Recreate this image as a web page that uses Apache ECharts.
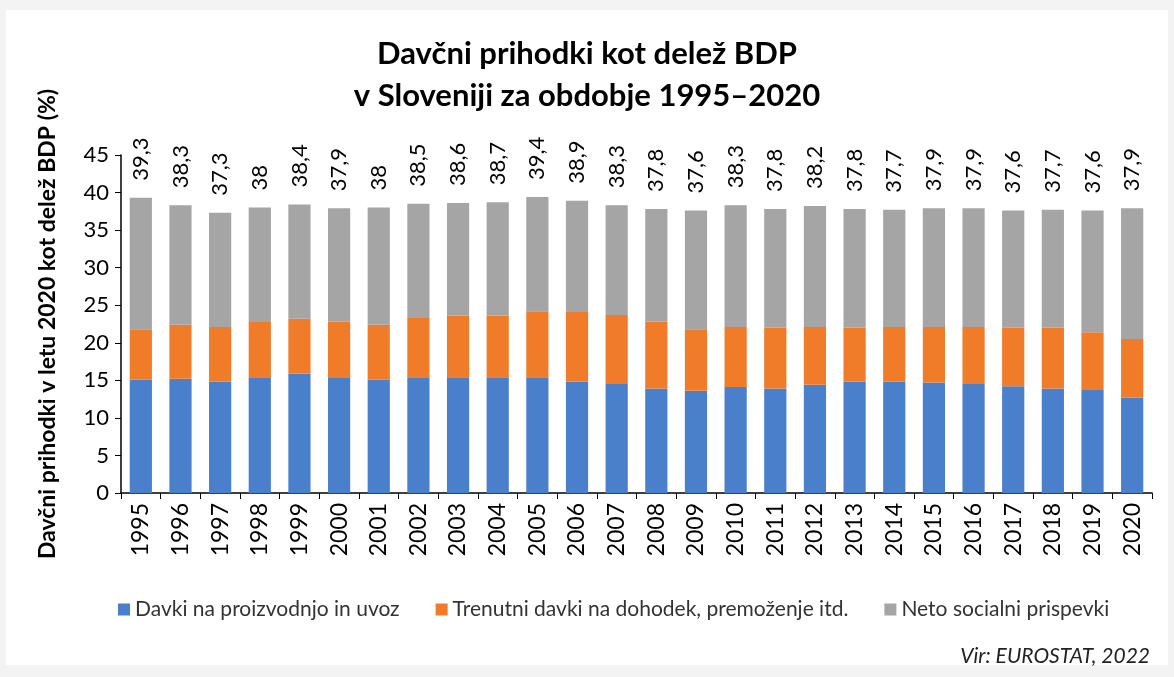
<!DOCTYPE html>
<html><head><meta charset="utf-8">
<script src="https://cdn.jsdelivr.net/npm/echarts@6/dist/echarts.min.js"></script>
<style>html,body{margin:0;padding:0;background:#f3f3f3;}#c{width:1174px;height:677px;}</style>
</head><body><div id="c"></div>
<script>
const years = ['1995','1996','1997','1998','1999','2000','2001','2002','2003','2004','2005','2006','2007','2008','2009','2010','2011','2012','2013','2014','2015','2016','2017','2018','2019','2020'];
const totals = [39.3,38.3,37.3,38,38.4,37.9,38,38.5,38.6,38.7,39.4,38.9,38.3,37.8,37.6,38.3,37.8,38.2,37.8,37.7,37.9,37.9,37.6,37.7,37.6,37.9];
const production = [15.1,15.2,14.8,15.4,15.9,15.3,15.1,15.4,15.4,15.4,15.4,14.8,14.5,13.9,13.6,14.1,13.9,14.4,14.8,14.8,14.7,14.5,14.2,13.9,13.7,12.7];
const income = [6.7,7.2,7.3,7.35,7.3,7.5,7.3,7.9,8.2,8.2,8.8,9.3,9.2,8.9,8.2,8.0,8.1,7.7,7.2,7.3,7.4,7.6,7.8,8.1,7.7,7.8];
const social = [17.5,15.9,15.2,15.25,15.2,15.1,15.6,15.2,15.0,15.1,15.2,14.8,14.6,15.0,15.8,16.2,15.8,16.1,15.8,15.6,15.8,15.8,15.6,15.7,16.2,17.4];
const yTicks = [0,5,10,15,20,25,30,35,40,45];

const FONT = 'Lato, "Open Sans", sans-serif';
const chart = echarts.init(document.getElementById('c'));
chart.setOption({
  backgroundColor: '#f3f3f3',
  graphic: [
    {type:'rect', shape:{x:6,y:10,width:1162,height:655}, style:{fill:'#ffffff'}, z:-10},
    {type:'text', right: 24, top: 646, style:{text:'Vir: EUROSTAT, 2022', fontFamily: FONT, fontSize: 21, fontStyle:'italic', fill:'#222'}}
  ],
  title: {
    text: 'Davčni prihodki kot delež BDP\nv Sloveniji za obdobje 1995–2020',
    left: 'center', top: 28,
    textStyle: {fontFamily: FONT, fontSize: 31, fontWeight: 'bold', color: '#000', lineHeight: 42}
  },
  legend: {
    top: 594, left: 113, itemGap: 36, itemWidth: 12, itemHeight: 12,
    icon: 'rect',
    textStyle: {fontFamily: FONT, fontSize: 21, color: '#333'},
    data: ['Davki na proizvodnjo in uvoz','Trenutni davki na dohodek, premoženje itd.','Neto socialni prispevki']
  },
  grid: {left: 121, right: 22, top: 155, bottom: 184},
  xAxis: {
    type: 'category', data: years,
    axisLine: {lineStyle: {color: '#000', width: 1.5}},
    axisTick: {show: true, alignWithLabel: false, length: 6, lineStyle: {color: '#000'}},
    axisLabel: {rotate: 90, fontFamily: FONT, fontSize: 23, color: '#000', margin: 10}
  },
  yAxis: {
    type: 'value', min: 0, max: 45, interval: 5,
    name: 'Davčni prihodki v letu 2020 kot delež BDP (%)',
    nameLocation: 'middle', nameGap: 62, nameRotate: 90,
    nameTextStyle: {fontFamily: FONT, fontSize: 23, fontWeight: 'bold', color: '#000'},
    axisLine: {show: true, lineStyle: {color: '#000', width: 1.5}},
    axisTick: {show: true, inside: false, length: 6, lineStyle: {color: '#000'}},
    splitLine: {show: false},
    axisLabel: {fontFamily: FONT, fontSize: 22, color: '#000', margin: 12}
  },
  series: [
    {name: 'Davki na proizvodnjo in uvoz', type: 'bar', stack: 't', data: production,
     barWidth: '56%', itemStyle: {color: '#4a7fcb'}},
    {name: 'Trenutni davki na dohodek, premoženje itd.', type: 'bar', stack: 't', data: income,
     itemStyle: {color: '#f07c2a'}},
    {name: 'Neto socialni prispevki', type: 'bar', stack: 't', data: social,
     itemStyle: {color: '#a5a5a5'},
     label: {show: true, position: 'top', rotate: 90, align: 'left', verticalAlign: 'middle', distance: 17,
       fontFamily: FONT, fontSize: 22, color: '#000',
       formatter: p => String(totals[p.dataIndex]).replace('.', ',')}}
  ]
});
</script></body></html>
